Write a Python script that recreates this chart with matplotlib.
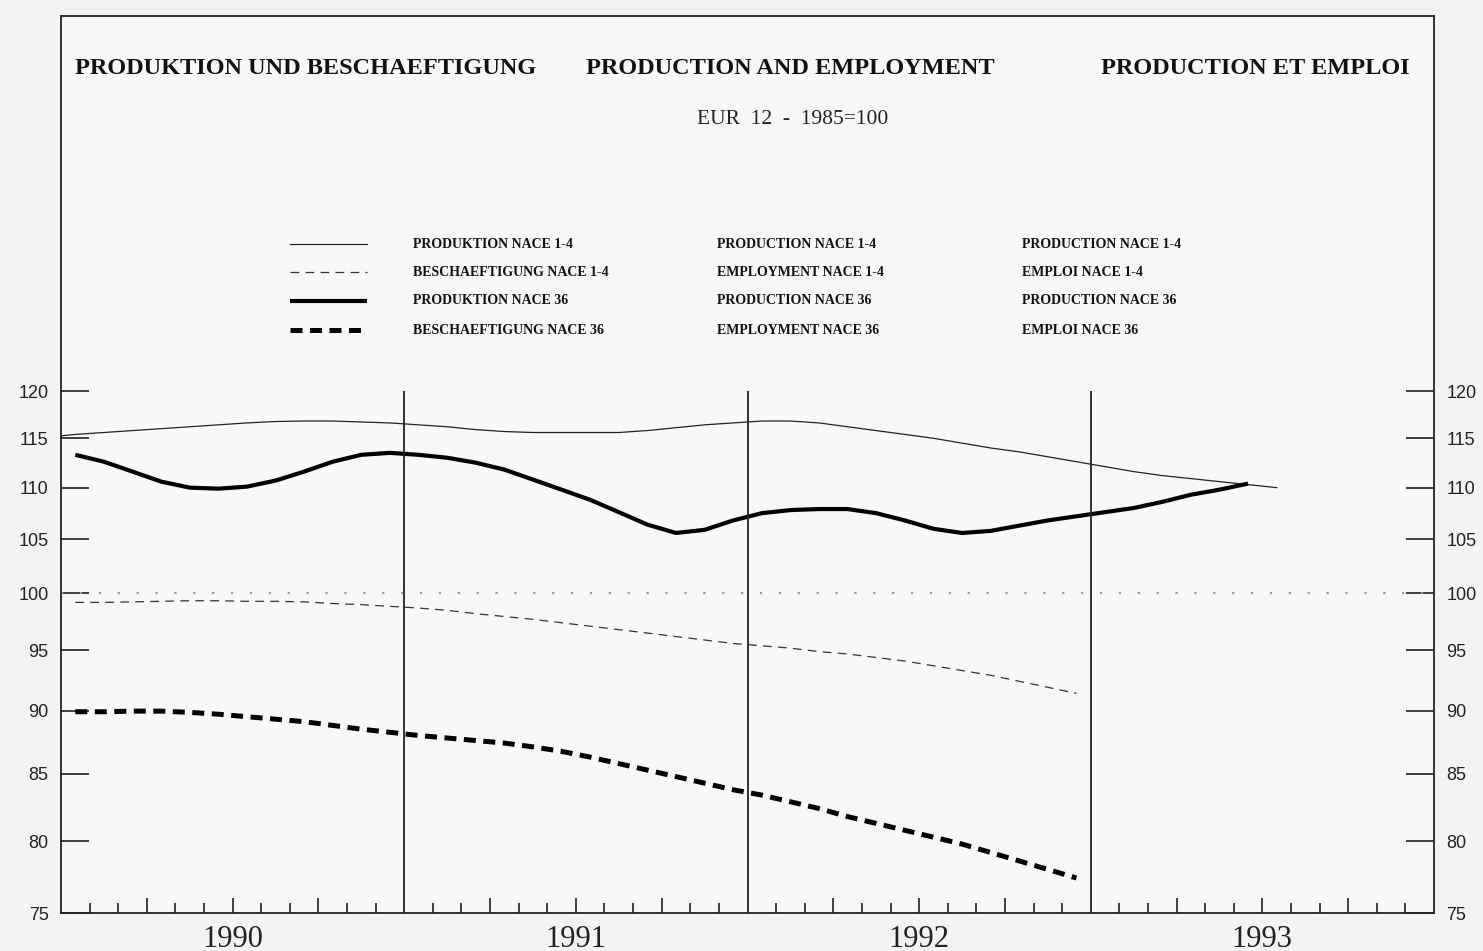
import numpy as np
import matplotlib
matplotlib.use("Agg")
import matplotlib.pyplot as plt
from matplotlib.lines import Line2D
from matplotlib.ticker import FixedLocator, NullLocator

# Monthly index values, EUR 12, 1985=100
# Production NACE 1-4 starts Dec 1989, the others Jan 1990
prod_14 = [115.1, 115.4, 115.6, 115.8, 116.0, 116.2, 116.4, 116.6, 116.75, 116.8,
           116.8, 116.7, 116.6, 116.4, 116.2, 115.9, 115.7, 115.6, 115.6, 115.6,
           115.6, 115.8, 116.1, 116.4, 116.6, 116.8, 116.8, 116.6, 116.2, 115.8,
           115.4, 115.0, 114.5, 114.0, 113.6, 113.1, 112.6, 112.1, 111.6, 111.2,
           110.9, 110.6, 110.3, 110.0]
empl_14 = [99.2, 99.2, 99.25, 99.3, 99.35, 99.35, 99.3, 99.3, 99.25, 99.1,
           99.0, 98.85, 98.7, 98.5, 98.2, 97.95, 97.7, 97.4, 97.1, 96.8,
           96.5, 96.2, 95.9, 95.6, 95.4, 95.2, 94.9, 94.7, 94.4, 94.1,
           93.7, 93.3, 92.9, 92.4, 91.9, 91.4]
prod_36 = [113.3, 112.6, 111.6, 110.6, 110.0, 109.9, 110.1, 110.7, 111.6, 112.6,
           113.3, 113.5, 113.3, 113.0, 112.5, 111.8, 110.8, 109.8, 108.8, 107.6,
           106.4, 105.6, 105.9, 106.8, 107.5, 107.8, 107.9, 107.9, 107.5, 106.8,
           106.0, 105.6, 105.8, 106.3, 106.8, 107.2, 107.6, 108.0, 108.6, 109.3,
           109.8, 110.4]
empl_36 = [89.9, 89.9, 89.95, 89.95, 89.85, 89.7, 89.5, 89.3, 89.1, 88.8,
           88.5, 88.25, 88.0, 87.8, 87.6, 87.4, 87.1, 86.75, 86.3, 85.8,
           85.3, 84.8, 84.3, 83.8, 83.4, 82.9, 82.4, 81.8, 81.3, 80.8,
           80.3, 79.8, 79.2, 78.6, 78.0, 77.4]

years = ['1990', '1991', '1992', '1993']
y_ticks = [75, 80, 85, 90, 95, 100, 105, 110, 115, 120]

legend_de = ['PRODUKTION NACE 1-4', 'BESCHAEFTIGUNG NACE 1-4',
             'PRODUKTION NACE 36', 'BESCHAEFTIGUNG NACE 36']
legend_en = ['PRODUCTION NACE 1-4', 'EMPLOYMENT NACE 1-4',
             'PRODUCTION NACE 36', 'EMPLOYMENT NACE 36']
legend_fr = ['PRODUCTION NACE 1-4', 'EMPLOI NACE 1-4',
             'PRODUCTION NACE 36', 'EMPLOI NACE 36']

W, H = 1483, 951
fig = plt.figure(figsize=(W / 100, H / 100), dpi=100, facecolor='#f3f3f3')


def fx(x):
    return x / W


def fy(y):
    return 1 - y / H


ax = fig.add_axes([fx(61), fy(913), fx(1434) - fx(61), (913 - 16) / H])
ax.set_facecolor('#f8f8f8')
ax.set_yscale('log')
ax.set_xlim(0, 48)
ax.set_ylim(75, 168.2)

# line styles
styles = [
    dict(color='#222222', lw=0.9, ls='-'),
    dict(color='#333333', lw=0.9, dashes=(7, 5)),
    dict(color='black', lw=3.0, ls='-', solid_capstyle='butt',
         solid_joinstyle='round'),
    dict(color='black', lw=3.6, dashes=(2.4, 1.5), dash_joinstyle='round'),
]

x_p14 = np.arange(len(prod_14)) - 0.5
x_other = np.arange(len(prod_36)) + 0.5
x_empl = np.arange(len(empl_14)) + 0.5

ax.plot(x_p14, prod_14, **styles[0])
ax.plot(x_empl, empl_14, **styles[1])
ax.plot(x_other, prod_36, **styles[2])
ax.plot(x_empl, empl_36, **styles[3])

# reference line at 100 and year separators
ax.axhline(100, color='#9a9a9a', lw=1.6, dashes=(1, 7.5))
ax.vlines([12, 24, 36], 75, 120, color='#222222', lw=1.3)

for s in ax.spines.values():
    s.set_linewidth(1.3)
    s.set_color('#222222')

# y axis ticks on both sides
ax.yaxis.set_major_locator(FixedLocator(y_ticks))
ax.yaxis.set_minor_locator(NullLocator())
ax.set_yticklabels([str(v) for v in y_ticks])
ax.tick_params(axis='y', which='major', direction='in', length=20, width=1.2,
               left=True, right=True, labelleft=True, labelright=True,
               labelsize=13, pad=9, colors='#222222')
for lab in ax.get_yticklabels() + ax.yaxis.get_ticklabels(minor=False):
    lab.set_family('Liberation Sans')
for lab in ax.yaxis.get_majorticklabels():
    lab.set_family('Liberation Sans')

# x axis: monthly ticks, longer ones at quarters
quarters = [m for m in range(3, 48, 3) if m % 12 != 0]
months = [m for m in range(1, 48) if m % 3 != 0]
ax.xaxis.set_major_locator(FixedLocator(quarters))
ax.xaxis.set_minor_locator(FixedLocator(months))
ax.tick_params(axis='x', which='major', direction='in', length=10.5, width=1.2,
               labelbottom=False, colors='#222222')
ax.tick_params(axis='x', which='minor', direction='in', length=7.5, width=1.2,
               colors='#222222')

for i, yr in enumerate(years):
    ax.text(12 * i + 6, -0.013, yr, transform=ax.get_xaxis_transform(),
            ha='center', va='top', fontsize=22, family='Liberation Serif',
            color='#222222')

# titles
title_kw = dict(fontsize=17.5, fontweight='bold', family='Liberation Serif',
                va='center', color='#111111')
fig.text(fx(75), fy(68), 'PRODUKTION UND BESCHAEFTIGUNG', ha='left', **title_kw)
fig.text(fx(790), fy(68), 'PRODUCTION AND EMPLOYMENT', ha='center', **title_kw)
fig.text(fx(1410), fy(68), 'PRODUCTION ET EMPLOI', ha='right', **title_kw)
fig.text(fx(793), fy(119), 'EUR  12  -  1985=100', ha='center', va='center',
         fontsize=15.5, family='Liberation Serif', color='#222222')

# legend block
rows = [244, 272, 301, 330]
leg_kw = dict(fontsize=10, fontweight='bold', family='Liberation Serif',
              va='center', ha='left', color='#111111')
for r, st, de, en, fr in zip(rows, styles, legend_de, legend_en, legend_fr):
    fig.add_artist(Line2D([fx(290), fx(367)], [fy(r), fy(r)],
                          transform=fig.transFigure, **st))
    fig.text(fx(413), fy(r), de, **leg_kw)
    fig.text(fx(717), fy(r), en, **leg_kw)
    fig.text(fx(1022), fy(r), fr, **leg_kw)

fig.savefig('out.png', dpi=100, facecolor=fig.get_facecolor())
